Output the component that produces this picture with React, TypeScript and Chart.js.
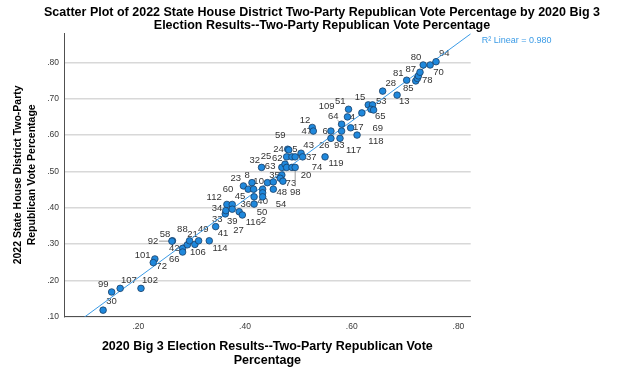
import React, { useEffect, useRef } from 'react';
import { Chart, registerables } from 'chart.js';

Chart.register(...registerables);

// ---------- data ----------
const caseLabels = [
  '30', '99', '107', '102', '101', '72', '58', '92', '42', '66',
  '88', '21', '106', '49', '114', '41', '33', '34', '112', '60',
  '39', '27', '116', '23', '45', '8', '', '36', '2', '10',
  '50', '40', '', '48', '54', '35', '', '73', '32', '63',
  '5', '24', '62', '74', '59', '25', '', '20', '98', '43',
  '37', '119', '12', '47', '6', '26', '93', '109', '64', '4',
  '51', '17', '117', '69', '15', '53', '118', '65', '28', '13',
  '81', '85', '78', '', '87', '80', '70', '94',
];

const big3Rep2020 = [
  0.134, 0.150, 0.166, 0.205, 0.231, 0.228, 0.264, 0.263, 0.283, 0.283,
  0.292, 0.296, 0.306, 0.313, 0.333, 0.345, 0.363, 0.364, 0.366, 0.376,
  0.376, 0.389, 0.395, 0.397, 0.406, 0.413, 0.416, 0.417, 0.417, 0.433,
  0.433, 0.433, 0.442, 0.453, 0.453, 0.469, 0.466, 0.471, 0.431, 0.469,
  0.480, 0.482, 0.478, 0.488, 0.494, 0.475, 0.478, 0.488, 0.494, 0.505,
  0.508, 0.550, 0.526, 0.528, 0.561, 0.561, 0.578, 0.581, 0.581, 0.592,
  0.594, 0.598, 0.610, 0.619, 0.631, 0.639, 0.636, 0.641, 0.658, 0.685,
  0.703, 0.720, 0.723, 0.725, 0.728, 0.734, 0.747, 0.758,
];

const houseRep2022 = [
  0.118, 0.168, 0.178, 0.178, 0.259, 0.249, 0.309, 0.308, 0.288, 0.278,
  0.298, 0.309, 0.299, 0.309, 0.309, 0.348, 0.383, 0.392, 0.409, 0.409,
  0.396, 0.389, 0.380, 0.460, 0.451, 0.469, 0.451, 0.430, 0.410, 0.451,
  0.441, 0.430, 0.469, 0.471, 0.451, 0.490, 0.481, 0.473, 0.511, 0.511,
  0.561, 0.559, 0.540, 0.540, 0.540, 0.520, 0.511, 0.511, 0.511, 0.550,
  0.540, 0.540, 0.621, 0.611, 0.611, 0.591, 0.591, 0.611, 0.630, 0.650,
  0.671, 0.620, 0.600, 0.661, 0.683, 0.683, 0.671, 0.669, 0.721, 0.710,
  0.751, 0.749, 0.756, 0.763, 0.773, 0.793, 0.793, 0.802,
];

const xTickValues = [0.2, 0.4, 0.6, 0.8];
const yTickValues = [0.1, 0.2, 0.3, 0.4, 0.5, 0.6, 0.7, 0.8];
const xRange = [0.0607, 0.823];
const yRange = [0.1, 0.881];
const fitIntercept = -0.0077;
const fitSlope = 1.077;
const rSquared = 0.98;

const titleLines = [
  'Scatter Plot of 2022 State House District Two-Party Republican Vote Percentage by 2020 Big 3',
  'Election Results--Two-Party Republican Vote Percentage',
];
const xTitle = ['2020 Big 3 Election Results--Two-Party Republican Vote', 'Percentage'];
const yTitle = ['2022 State House District Two-Party', 'Republican Vote Percentage'];

// ---------- label placement (style) ----------
const LABEL_OFFSETS: Record<string, [number, number]> = {
  '30': [8.4, -8.3], '99': [-8.4, -7.7], '107': [8.7, -8.3], '102': [9, -8.3],
  '101': [-12.3, -3.7], '72': [8.4, 3.3], '58': [-7.5, -6.8], '92': [-19, 0],
  '42': [-8.3, 0], '66': [-8.4, 7.3], '88': [-5, -15.7], '21': [3, -6.7],
  '106': [3, 7.7], '49': [4.7, -11.7], '114': [10.7, 7.6], '41': [7.3, 6.3],
  '33': [-8, 5], '34': [-8.7, -2.7], '112': [-12.7, -7.3], '60': [-4.3, -15.3],
  '39': [0, 11.7], '27': [-0.7, 19], '116': [11, 7.3], '23': [-7.6, -7.7],
  '45': [-8.3, 6.7], '8': [-4.7, -7.7], '36': [-8.3, 7.6], '2': [9.3, 16.7],
  '10': [-4, -7.6], '50': [-0.6, 19.6], '40': [0, 5], '48': [8.4, 10],
  '54': [7.7, 15.3], '35': [-7.4, 0], '73': [8, 2.3], '32': [-6.7, -7.3],
  '63': [-11.7, -1.3], '5': [7.3, 0], '24': [-10.2, -0.7], '62': [-9.4, 1.6],
  '59': [-15, -21.7], '25': [-19, -7.3], '20': [14, 7.7], '98': [0, 25],
  '43': [7.6, -8.3], '37': [8.7, 0.8], '74': [25, 10.8], '119': [11, 6.6],
  '12': [-7.3, -7.3], '47': [-6.6, 0], '6': [-5.7, 0.7], '26': [-6.7, 7.4],
  '93': [-0.7, 7.4], '109': [-15, -24.3], '64': [-8.4, -8.3], '4': [5, 0],
  '51': [-8.3, -7.6], '17': [7.6, 0], '117': [-3.4, 15.7], '69': [16, 15],
  '118': [5, 32.4], '15': [-8.3, -7.3], '53': [8.7, -3.3], '65': [6.7, 6],
  '28': [8, -7.7], '13': [7.3, 6], '81': [-8.4, -7.3], '85': [-7.4, 7.6],
  '78': [10, 2.4], '87': [-9.3, -3.3], '80': [-7.3, -7.3], '70': [8.3, 7.7],
  '94': [8.3, -8.4],
};
const LEADERS = new Set(['92', '98', '64']);

const FONT = '"Liberation Sans", Arial, Helvetica, sans-serif';
const POINT_FILL = '#1f88dc';
const POINT_EDGE = '#1b3f66';
const FIT_COLOR = '#3b9be6';

const fmt = (v: number) => Number(v).toFixed(2).replace(/^0/, '');

const annotationPlugin = {
  id: 'annotations',
  beforeDatasetsDraw(chart: any) {
    const { ctx } = chart;
    const xs = chart.scales.x;
    const ys = chart.scales.y;
    ctx.save();
    ctx.font = `9.5px ${FONT}`;
    ctx.fillStyle = '#333333';
    ctx.textAlign = 'center';
    ctx.textBaseline = 'middle';
    caseLabels.forEach((lab, i) => {
      if (!lab) return;
      const off = LABEL_OFFSETS[lab];
      if (!off) return;
      const px = xs.getPixelForValue(big3Rep2020[i]);
      const py = ys.getPixelForValue(houseRep2022[i]);
      const lx = px + off[0];
      const ly = py + off[1];
      if (LEADERS.has(lab)) {
        const dx = px - lx;
        const dy = py - ly;
        const d = Math.hypot(dx, dy) || 1;
        ctx.strokeStyle = '#9a9a9a';
        ctx.lineWidth = 1;
        ctx.beginPath();
        ctx.moveTo(lx + (dx / d) * 6, ly + (dy / d) * 6);
        ctx.lineTo(px, py);
        ctx.stroke();
      }
      ctx.fillText(lab, lx, ly);
    });
    ctx.restore();
  },
  afterDraw(chart: any) {
    const { ctx, chartArea } = chart;
    ctx.save();
    ctx.fillStyle = '#000';
    ctx.font = `bold 12.5px ${FONT}`;
    ctx.textAlign = 'center';
    ctx.textBaseline = 'middle';
    ctx.fillText(titleLines[0], 322, 13);
    ctx.fillText(titleLines[1], 322, 25.5);
    ctx.fillStyle = FIT_COLOR;
    ctx.font = `9px ${FONT}`;
    ctx.textAlign = 'left';
    ctx.fillText(`R\u00B2 Linear = ${rSquared.toFixed(3)}`, chartArea.right + 11, 41);
    ctx.restore();
  },
};

export default function App() {
  const canvasRef = useRef<HTMLCanvasElement | null>(null);

  useEffect(() => {
    const canvas = canvasRef.current;
    if (!canvas) return;
    const points = big3Rep2020.map((x, i) => ({ x, y: houseRep2022[i] }));
    const fitLine = [
      { x: xRange[0], y: fitIntercept + fitSlope * xRange[0] },
      { x: xRange[1], y: fitIntercept + fitSlope * xRange[1] },
    ];
    const chart = new Chart(canvas, {
      type: 'scatter',
      data: {
        datasets: [
          {
            data: points,
            backgroundColor: POINT_FILL,
            borderColor: POINT_EDGE,
            borderWidth: 0.8,
            pointRadius: 3.3,
          },
          {
            type: 'line',
            data: fitLine,
            borderColor: FIT_COLOR,
            borderWidth: 1,
            pointRadius: 0,
            fill: false,
            showLine: true,
          } as any,
        ],
      },
      options: {
        responsive: false,
        animation: false,
        devicePixelRatio: 1,
        layout: { padding: { top: 33, right: 169.3, left: 0, bottom: 0 } },
        plugins: {
          legend: { display: false },
          tooltip: { enabled: false },
          title: { display: false },
        },
        scales: {
          x: {
            type: 'linear',
            position: 'bottom',
            min: xRange[0],
            max: xRange[1],
            grid: { display: false, drawTicks: false },
            border: { display: true, color: '#505050', width: 1 },
            afterBuildTicks: (s: any) => {
              s.ticks = xTickValues.map((v) => ({ value: v }));
            },
            afterFit: (s: any) => {
              s.height = 59.3;
            },
            ticks: {
              padding: 5,
              color: '#3a3a3a',
              font: { family: FONT, size: 8.5 },
              maxRotation: 0,
              autoSkip: false,
              callback: (v: any) => fmt(v),
            },
            title: {
              display: true,
              text: xTitle,
              color: '#000',
              font: { family: FONT, size: 12.5, weight: 'bold', lineHeight: 1.1 },
              padding: { top: 0, bottom: 9 },
            },
          },
          y: {
            type: 'linear',
            min: yRange[0],
            max: yRange[1],
            grid: { display: true, color: '#d8d8d8', lineWidth: 1.5, drawTicks: false },
            border: { display: true, color: '#505050', width: 1 },
            afterBuildTicks: (s: any) => {
              s.ticks = yTickValues.map((v) => ({ value: v }));
            },
            afterFit: (s: any) => {
              s.width = 64;
            },
            ticks: {
              padding: 5,
              color: '#3a3a3a',
              font: { family: FONT, size: 8.5 },
              autoSkip: false,
              callback: (v: any) => fmt(v),
            },
            title: {
              display: true,
              text: yTitle,
              color: '#000',
              font: { family: FONT, size: 10.5, weight: 'bold', lineHeight: 1.33 },
              padding: { top: 11, bottom: 0 },
            },
          },
        },
      } as any,
      plugins: [annotationPlugin],
    });
    return () => chart.destroy();
  }, []);

  return (
    <div style={{ position: 'fixed', left: 0, top: 0, width: 640, height: 376, background: '#fff' }}>
      <canvas ref={canvasRef} width={640} height={376} style={{ display: 'block', width: 640, height: 376 }} />
    </div>
  );
}
